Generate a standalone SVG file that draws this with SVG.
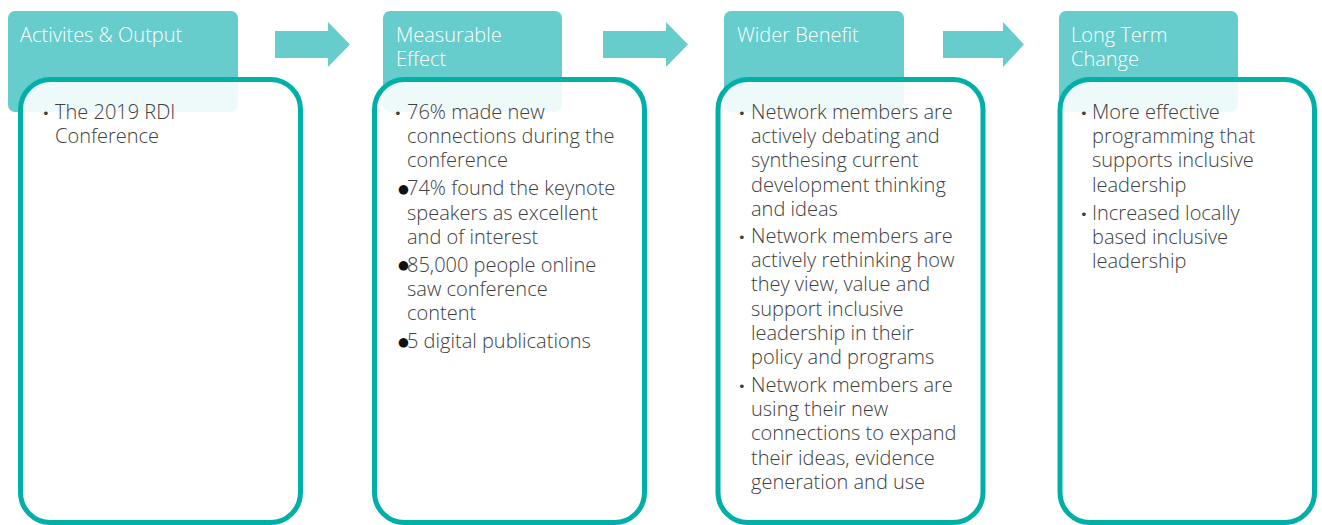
<svg xmlns="http://www.w3.org/2000/svg" width="1322" height="525" viewBox="0 0 1322 525">
<style>
.hdr{fill:#66cccc}
.frame{fill:#ffffff;fill-opacity:0.89;stroke:#00b0a8;stroke-width:5}
.ttl{font-family:"Open Sans","Noto Sans",sans-serif;font-weight:300;font-size:20px;fill:#ffffff}
.body{font-family:"Open Sans","Noto Sans",sans-serif;font-weight:300;font-size:20px;fill:#404040}
.bul{font-family:"DejaVu Sans",sans-serif;font-size:13px;fill:#404040}
.bbul{font-family:"DejaVu Sans",sans-serif;font-size:12.5px;fill:#111111}
.arrow{fill:#66cccc}
</style>
<rect width="1322" height="525" fill="#ffffff"/>
<g id="connectors">
<polygon class="arrow" points="275,31 328,31 328,22 350,44.5 328,67 328,58 275,58"/>
<polygon class="arrow" points="603,31 666,31 666,22 688,44.5 666,67 666,58 603,58"/>
<polygon class="arrow" points="943,31 1003,31 1003,22 1024,44.5 1003,67 1003,58 943,58"/>
</g>
<g id="node-activities">
<rect class="hdr" x="8" y="11" width="230" height="101" rx="7"/>
<text class="ttl" x="20" y="42">Activites &amp; Output</text>
<rect class="frame" x="20.5" y="79.5" width="280" height="443" rx="30"/>
<text class="bul" x="42" y="118">•</text>
<text class="body"><tspan x="55" y="119">The 2019 RDI</tspan><tspan x="55" y="143.2">Conference</tspan></text>
</g>
<g id="node-measurable">
<rect class="hdr" x="383" y="11" width="179" height="101" rx="7"/>
<text class="ttl"><tspan x="396" y="42">Measurable</tspan><tspan x="396" y="66">Effect</tspan></text>
<rect class="frame" x="374.5" y="79.5" width="270" height="443" rx="30"/>
<text class="bul" x="394" y="118">•</text>
<text class="bbul" x="398" y="192.5">●</text>
<text class="bbul" x="398" y="269">●</text>
<text class="bbul" x="398" y="345.5">●</text>
<text class="body"><tspan x="407" y="119">76% made new</tspan><tspan x="407" y="143.2">connections during the</tspan><tspan x="407" y="167.4">conference</tspan><tspan x="407" y="195.4">74% found the keynote</tspan><tspan x="407" y="219.6">speakers as excellent</tspan><tspan x="407" y="243.8">and of interest</tspan><tspan x="407" y="271.8">85,000 people online</tspan><tspan x="407" y="296">saw conference</tspan><tspan x="407" y="320.2">content</tspan><tspan x="407" y="348">5 digital publications</tspan></text>
</g>
<g id="node-wider">
<rect class="hdr" x="724" y="11" width="180" height="101" rx="7"/>
<text class="ttl" x="737" y="42">Wider Benefit</text>
<rect class="frame" x="718" y="79.5" width="265" height="443" rx="30"/>
<text class="bul" x="738" y="118">•</text>
<text class="bul" x="738" y="242">•</text>
<text class="bul" x="738" y="391">•</text>
<text class="body"><tspan x="751" y="119">Network members are</tspan><tspan x="751" y="143.2">actively debating and</tspan><tspan x="751" y="167.4">synthesing current</tspan><tspan x="751" y="191.6">development thinking</tspan><tspan x="751" y="215.8">and ideas</tspan><tspan x="751" y="243">Network members are</tspan><tspan x="751" y="267.2">actively rethinking how</tspan><tspan x="751" y="291.4">they view, value and</tspan><tspan x="751" y="315.6">support inclusive</tspan><tspan x="751" y="339.8">leadership in their</tspan><tspan x="751" y="364">policy and programs</tspan><tspan x="751" y="392">Network members are</tspan><tspan x="751" y="416.2">using their new</tspan><tspan x="751" y="440.4">connections to expand</tspan><tspan x="751" y="464.6">their ideas, evidence</tspan><tspan x="751" y="488.8">generation and use</tspan></text>
</g>
<g id="node-longterm">
<rect class="hdr" x="1059" y="11" width="179" height="101" rx="7"/>
<text class="ttl"><tspan x="1071" y="42">Long Term</tspan><tspan x="1071" y="66">Change</tspan></text>
<rect class="frame" x="1060" y="79.5" width="254.5" height="443" rx="30"/>
<text class="bul" x="1080" y="118">•</text>
<text class="bul" x="1080" y="218.6">•</text>
<text class="body"><tspan x="1092" y="119">More effective</tspan><tspan x="1092" y="143.2">programming that</tspan><tspan x="1092" y="167.4">supports inclusive</tspan><tspan x="1092" y="191.6">leadership</tspan><tspan x="1092" y="219.6">Increased locally</tspan><tspan x="1092" y="243.8">based inclusive</tspan><tspan x="1092" y="268">leadership</tspan></text>
</g>
</svg>
